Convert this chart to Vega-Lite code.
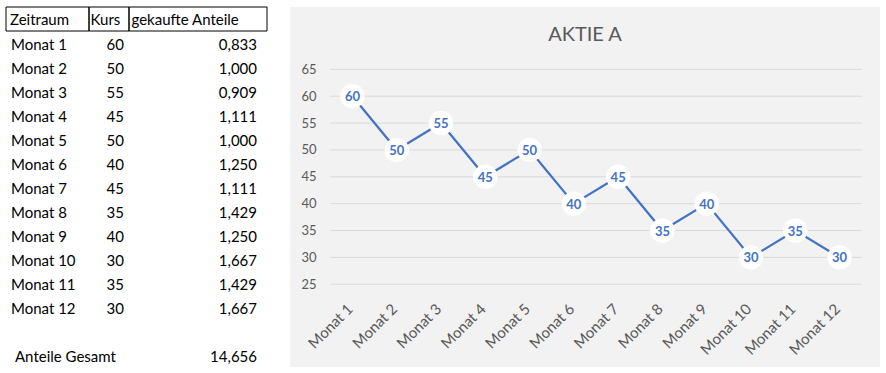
{
  "$schema": "https://vega.github.io/schema/vega-lite/v6.json",
  "background": "white",
  "padding": {"left": 5, "top": 6, "right": 0, "bottom": 0},
  "bounds": "flush",
  "spacing": 0,
  "datasets": {
    "kurse": [
      {"Zeitraum": "Monat 1", "Kurs": 60, "Anteile": 0.833},
      {"Zeitraum": "Monat 2", "Kurs": 50, "Anteile": 1.0},
      {"Zeitraum": "Monat 3", "Kurs": 55, "Anteile": 0.909},
      {"Zeitraum": "Monat 4", "Kurs": 45, "Anteile": 1.111},
      {"Zeitraum": "Monat 5", "Kurs": 50, "Anteile": 1.0},
      {"Zeitraum": "Monat 6", "Kurs": 40, "Anteile": 1.25},
      {"Zeitraum": "Monat 7", "Kurs": 45, "Anteile": 1.111},
      {"Zeitraum": "Monat 8", "Kurs": 35, "Anteile": 1.429},
      {"Zeitraum": "Monat 9", "Kurs": 40, "Anteile": 1.25},
      {"Zeitraum": "Monat 10", "Kurs": 30, "Anteile": 1.667},
      {"Zeitraum": "Monat 11", "Kurs": 35, "Anteile": 1.429},
      {"Zeitraum": "Monat 12", "Kurs": 30, "Anteile": 1.667}
    ],
    "gesamt": [{"Label": "Anteile Gesamt", "Wert": 14.656}],
    "raster": [
      {"Wert": 25}, {"Wert": 30}, {"Wert": 35}, {"Wert": 40}, {"Wert": 45},
      {"Wert": 50}, {"Wert": 55}, {"Wert": 60}, {"Wert": 65}
    ]
  },
  "hconcat": [
    {
      "width": 83, "height": 360,
      "view": {"stroke": null},
      "encoding": {
        "x": {"datum": "k", "type": "nominal", "bandPosition": 0, "scale": {"type": "band", "paddingInner": 0, "paddingOuter": 0}, "axis": null}
      },
      "layer": [
        {
          "data": {"values": [{"Zeile": "Kopf", "Text": "Zeitraum"}]},
          "mark": {"type": "rect", "fill": null, "fillOpacity": 0, "stroke": "black", "strokeWidth": 1},
          "encoding": {
            "y": {"field": "Zeile", "type": "nominal", "scale": {"type": "band", "paddingInner": 0, "paddingOuter": 0, "domain": ["Kopf", "Monat 1", "Monat 2", "Monat 3", "Monat 4", "Monat 5", "Monat 6", "Monat 7", "Monat 8", "Monat 9", "Monat 10", "Monat 11", "Monat 12", "leer", "Anteile Gesamt"]}, "axis": null}
          }
        },
        {
          "data": {"values": [{"Zeile": "Kopf", "Text": "Zeitraum"}]},
          "mark": {"type": "text", "align": "left", "baseline": "middle", "dx": 4, "dy": 1, "fontSize": 15, "color": "black"},
          "encoding": {
            "y": {"field": "Zeile", "type": "nominal", "axis": null},
            "text": {"field": "Text"}
          }
        },
        {
          "data": {"name": "kurse"},
          "mark": {"type": "text", "align": "left", "baseline": "middle", "dx": 5, "dy": 2, "fontSize": 15, "color": "black"},
          "encoding": {
            "y": {"field": "Zeitraum", "type": "nominal", "axis": null},
            "text": {"field": "Zeitraum"}
          }
        },
        {
          "data": {"name": "gesamt"},
          "mark": {"type": "text", "align": "left", "baseline": "middle", "dx": 9, "dy": 2, "fontSize": 15, "color": "black"},
          "encoding": {
            "y": {"field": "Label", "type": "nominal", "axis": null},
            "text": {"field": "Label"}
          }
        }
      ]
    },
    {
      "width": 40, "height": 360,
      "view": {"stroke": null},
      "layer": [
        {
          "data": {"values": [{"Zeile": "Kopf", "Text": "Kurs"}]},
          "mark": {"type": "rect", "fill": null, "fillOpacity": 0, "stroke": "black", "strokeWidth": 1},
          "encoding": {
            "x": {"datum": "k", "type": "nominal", "scale": {"type": "band", "paddingInner": 0, "paddingOuter": 0}, "axis": null},
            "y": {"field": "Zeile", "type": "nominal", "scale": {"type": "band", "paddingInner": 0, "paddingOuter": 0, "domain": ["Kopf", "Monat 1", "Monat 2", "Monat 3", "Monat 4", "Monat 5", "Monat 6", "Monat 7", "Monat 8", "Monat 9", "Monat 10", "Monat 11", "Monat 12", "leer", "Anteile Gesamt"]}, "axis": null}
          }
        },
        {
          "data": {"values": [{"Zeile": "Kopf", "Text": "Kurs"}]},
          "mark": {"type": "text", "align": "left", "baseline": "middle", "dx": 1.5, "dy": 1, "fontSize": 15, "color": "black"},
          "encoding": {
            "x": {"datum": "k", "type": "nominal", "bandPosition": 0, "axis": null},
            "y": {"field": "Zeile", "type": "nominal", "axis": null},
            "text": {"field": "Text"}
          }
        },
        {
          "data": {"name": "kurse"},
          "mark": {"type": "text", "align": "right", "baseline": "middle", "dx": -5, "dy": 2, "fontSize": 15, "color": "black"},
          "encoding": {
            "x": {"datum": "k", "type": "nominal", "bandPosition": 1, "axis": null},
            "y": {"field": "Zeitraum", "type": "nominal", "axis": null},
            "text": {"field": "Kurs", "type": "quantitative", "format": "d"}
          }
        }
      ]
    },
    {
      "width": 138, "height": 360,
      "view": {"stroke": null},
      "layer": [
        {
          "data": {"values": [{"Zeile": "Kopf", "Text": "gekaufte Anteile"}]},
          "mark": {"type": "rect", "fill": null, "fillOpacity": 0, "stroke": "black", "strokeWidth": 1},
          "encoding": {
            "x": {"datum": "k", "type": "nominal", "scale": {"type": "band", "paddingInner": 0, "paddingOuter": 0}, "axis": null},
            "y": {"field": "Zeile", "type": "nominal", "scale": {"type": "band", "paddingInner": 0, "paddingOuter": 0, "domain": ["Kopf", "Monat 1", "Monat 2", "Monat 3", "Monat 4", "Monat 5", "Monat 6", "Monat 7", "Monat 8", "Monat 9", "Monat 10", "Monat 11", "Monat 12", "leer", "Anteile Gesamt"]}, "axis": null}
          }
        },
        {
          "data": {"values": [{"Zeile": "Kopf", "Text": "gekaufte Anteile"}]},
          "mark": {"type": "text", "align": "left", "baseline": "middle", "dx": 2.5, "dy": 1, "fontSize": 15, "color": "black"},
          "encoding": {
            "x": {"datum": "k", "type": "nominal", "bandPosition": 0, "axis": null},
            "y": {"field": "Zeile", "type": "nominal", "axis": null},
            "text": {"field": "Text"}
          }
        },
        {
          "data": {"name": "kurse"},
          "mark": {"type": "text", "align": "right", "baseline": "middle", "dx": -10, "dy": 2, "fontSize": 15, "color": "black"},
          "encoding": {
            "x": {"datum": "k", "type": "nominal", "bandPosition": 1, "axis": null},
            "y": {"field": "Zeitraum", "type": "nominal", "axis": null},
            "text": {"field": "Anteile", "type": "quantitative", "format": ".3f"}
          }
        },
        {
          "data": {"name": "gesamt"},
          "mark": {"type": "text", "align": "right", "baseline": "middle", "dx": -10, "dy": 2, "fontSize": 15, "color": "black"},
          "encoding": {
            "x": {"datum": "k", "type": "nominal", "bandPosition": 1, "axis": null},
            "y": {"field": "Label", "type": "nominal", "axis": null},
            "text": {"field": "Wert", "type": "quantitative", "format": ".3f"}
          }
        }
      ]
    },
    {
      "width": 23, "height": 360,
      "view": {"stroke": null},
      "data": {"values": []},
      "mark": {"type": "text"},
      "encoding": {}
    },
    {
      "width": 590,
      "height": 360,
      "view": {"fill": "#f2f2f2", "stroke": null},
      "title": {"text": "AKTIE A", "fontSize": 20, "font": "Lato", "fontWeight": "normal", "color": "#595959", "anchor": "middle", "frame": "group", "baseline": "alphabetic", "offset": -54},
      "layer": [
        {
          "data": {"name": "raster"},
          "mark": {"type": "rule", "color": "#d9d9d9", "strokeWidth": 1},
          "encoding": {
            "x": {"datum": "Monat 1", "type": "nominal", "bandPosition": 0,
                  "scale": {"type": "band", "domain": ["Monat 1", "Monat 2", "Monat 3", "Monat 4", "Monat 5", "Monat 6", "Monat 7", "Monat 8", "Monat 9", "Monat 10", "Monat 11", "Monat 12"], "paddingInner": 0, "paddingOuter": 0.662, "align": 0.688},
                  "axis": {"title": null, "labelAngle": -45, "offset": -69, "labelPadding": 3, "labelOffset": -7, "domain": false, "ticks": false, "grid": false, "labelFontSize": 15, "labelColor": "#595959", "labelFont": "Lato"}},
            "x2": {"datum": "Monat 12", "bandPosition": 1},
            "y": {"field": "Wert", "type": "quantitative",
                  "scale": {"domain": [9.6, 76.6], "nice": false, "zero": false},
                  "axis": {"title": null, "values": [25, 30, 35, 40, 45, 50, 55, 60, 65], "offset": -26, "labelPadding": 0, "domain": false, "ticks": false, "grid": false, "labelFontSize": 13, "labelColor": "#595959", "labelFont": "Lato"}}
          }
        },
        {
          "data": {"name": "kurse"},
          "encoding": {
            "x": {"field": "Zeitraum", "type": "nominal", "bandPosition": 0.5,
                  "scale": {"type": "band", "domain": ["Monat 1", "Monat 2", "Monat 3", "Monat 4", "Monat 5", "Monat 6", "Monat 7", "Monat 8", "Monat 9", "Monat 10", "Monat 11", "Monat 12"], "paddingInner": 0, "paddingOuter": 0.662, "align": 0.688},
                  "axis": {"title": null, "labelAngle": -45, "offset": -69, "labelPadding": 3, "labelOffset": -7, "domain": false, "ticks": false, "grid": false, "labelFontSize": 15, "labelColor": "#595959", "labelFont": "Lato"}},
            "y": {"field": "Kurs", "type": "quantitative",
                  "scale": {"domain": [9.6, 76.6], "nice": false, "zero": false},
                  "axis": {"title": null, "values": [25, 30, 35, 40, 45, 50, 55, 60, 65], "offset": -26, "labelPadding": 0, "domain": false, "ticks": false, "grid": false, "labelFontSize": 13, "labelColor": "#595959", "labelFont": "Lato"}}
          },
          "layer": [
            {"mark": {"type": "line", "color": "#4472C4", "strokeWidth": 2.25}},
            {"mark": {"type": "circle", "color": "white", "opacity": 1, "size": 600}},
            {"mark": {"type": "text", "color": "#4472C4", "fontWeight": "bold", "fontSize": 13, "baseline": "middle", "dy": 1}, "encoding": {"text": {"field": "Kurs", "type": "quantitative", "format": "d"}}}
          ]
        }
      ]
    }
  ],
  "config": {
    "font": "Lato",
    "view": {"stroke": null},
    "text": {"font": "Lato"},
    "locale": {"number": {"decimal": ",", "thousands": ".", "grouping": [3], "currency": ["", " €"]}}
  }
}
